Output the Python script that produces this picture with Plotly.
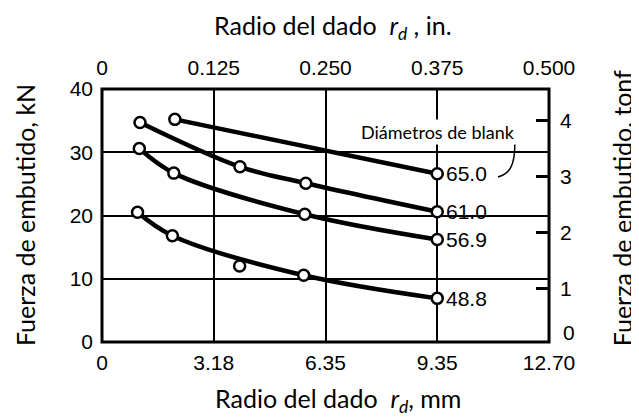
import plotly.graph_objects as go

# ---------------- data ----------------
mm_ticks = [0, 3.175, 6.35, 9.525, 12.70]
mm_labels = ["0", "3.18", "6.35", "9.35", "12.70"]
in_ticks = [0, 0.125, 0.250, 0.375, 0.500]
in_labels = ["0", "0.125", "0.250", "0.375", "0.500"]
kN_ticks = [0, 10, 20, 30, 40]
tonf_ticks = [1, 2, 3, 4]
tonf_labels = ["1", "2", "3", "4"]
tonf_zero_label = "0"

x_65 = [2.07, 9.525]
y_65 = [35.2, 26.6]
x_61 = [1.08, 3.92, 5.79, 9.525]
y_61 = [34.7, 27.7, 25.1, 20.6]
x_569 = [1.06, 2.04, 5.76, 9.525]
y_569 = [30.6, 26.7, 20.2, 16.2]
x_488 = [1.01, 2.00, 5.73, 9.525]
y_488 = [20.5, 16.8, 10.55, 6.9]
x_488_out = [3.91]
y_488_out = [12.0]

series = [(x_65, y_65, "65.0"), (x_61, y_61, "61.0"),
          (x_569, y_569, "56.9"), (x_488, y_488, "48.8")]

TICKFONT = dict(family="Liberation Sans", size=21, color="black")
TITLEFONT = dict(family="Lato", size=25, color="black")

fig = go.Figure()
for xs, ys, name in series:
    fig.add_trace(go.Scatter(x=xs, y=ys, mode="lines",
                             line=dict(color="black", width=4.5, shape="spline", smoothing=1.0),
                             hoverinfo="skip", showlegend=False))
marker = dict(symbol="circle", size=11, color="white", line=dict(color="black", width=2.5))
for xs, ys, name in series:
    fig.add_trace(go.Scatter(x=xs, y=ys, mode="markers", marker=marker, showlegend=False))
fig.add_trace(go.Scatter(x=x_488_out, y=y_488_out, mode="markers", marker=marker, showlegend=False))
# invisible trace to activate secondary axes
fig.add_trace(go.Scatter(x=[0], y=[1], xaxis="x2", yaxis="y2", mode="markers",
                         marker=dict(opacity=0), hoverinfo="skip", showlegend=False))

# series labels
for xs, ys, name in series:
    fig.add_annotation(x=xs[-1], y=ys[-1], text=name, showarrow=False,
                       xanchor="left", yanchor="middle", xshift=7,
                       font=TICKFONT)

fig.add_annotation(x=9.546, y=33.2, text="Diámetros de blank", showarrow=False,
                   xanchor="center", yanchor="middle", bgcolor="white",
                   font=dict(family="Lato", size=18, color="black"))

# leader line
fig.add_shape(type="path", xref="x", yref="y",
              path="M 11.25,26.1 C 11.59,26.56 11.73,27.98 11.73,31.4",
              line=dict(color="black", width=1.5))

# border
fig.add_shape(type="rect", xref="paper", yref="paper", x0=0, y0=0, x1=1, y1=1,
              line=dict(color="black", width=3), layer="above")

# zero label of the tonf axis (no tick mark in the original)
fig.add_annotation(xref="paper", yref="paper", x=1.0, y=0.036, text=tonf_zero_label,
                   showarrow=False, xanchor="left", yanchor="middle", xshift=12,
                   font=TICKFONT)

# titles
fig.add_annotation(xref="paper", yref="paper", x=0.517, y=1.245,
                   text="Radio del dado  <i>r<sub>d</sub></i> , in.", showarrow=False,
                   xanchor="center", yanchor="middle", font=TITLEFONT)
fig.add_annotation(xref="paper", yref="paper", x=0.528, y=-0.229,
                   text="Radio del dado  <i>r<sub>d</sub></i>, mm", showarrow=False,
                   xanchor="center", yanchor="middle", font=TITLEFONT)
fig.add_annotation(xref="paper", yref="paper", x=-0.172, y=0.502,
                   text="Fuerza de embutido, kN", showarrow=False, textangle=-90,
                   xanchor="center", yanchor="middle", font=TITLEFONT)
fig.add_annotation(xref="paper", yref="paper", x=1.164, y=0.53,
                   text="Fuerza de embutido, tonf", showarrow=False, textangle=-90,
                   xanchor="center", yanchor="middle", font=TITLEFONT)

# page body has an 8px margin: figure 631x411 keeps the plot where the reference has it
fig.update_layout(
    width=631, height=411,
    margin=dict(l=94, r=90, t=81, b=77, autoexpand=False),
    paper_bgcolor="white", plot_bgcolor="white",
    showlegend=False,
    xaxis=dict(range=[0, 12.70], tickvals=mm_ticks, ticktext=mm_labels,
               showgrid=True, gridcolor="black", gridwidth=2,
               zeroline=False, showline=False, ticks="",
               ticklabelstandoff=6, tickfont=TICKFONT),
    yaxis=dict(range=[0, 40], tickvals=kN_ticks,
               showgrid=True, gridcolor="black", gridwidth=2,
               zeroline=False, showline=False, ticks="",
               ticklabelstandoff=8, tickfont=TICKFONT),
    xaxis2=dict(range=[0, 0.5], overlaying="x", side="top",
                tickvals=in_ticks, ticktext=in_labels,
                showgrid=False, zeroline=False, showline=False, ticks="",
                ticklabelstandoff=9, tickfont=TICKFONT, anchor="y"),
    yaxis2=dict(range=[0.05, 4.56], overlaying="y", side="right",
                tickvals=tonf_ticks, ticktext=tonf_labels,
                showgrid=False, zeroline=False, showline=False,
                ticks="inside", ticklen=13, tickwidth=2.5, tickcolor="black",
                ticklabelstandoff=10, tickfont=TICKFONT, anchor="x"),
)

fig.write_html("out.html")
